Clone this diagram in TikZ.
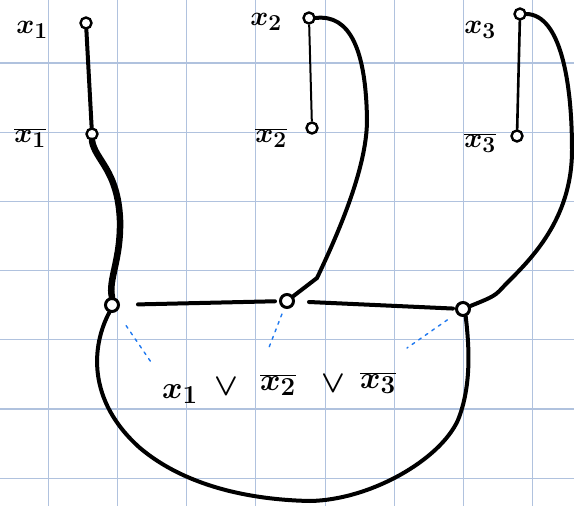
\documentclass[tikz,border=0pt]{standalone}
\begin{document}
\begin{tikzpicture}[x=1pt,y=-1pt,
  gridline/.style={draw={rgb,255:red,176;green,194;blue,222},line width=1.1pt},
  vtx/.style={circle,draw,fill=white,inner sep=0pt,minimum size=11pt,line width=2.4pt},
  cvtx/.style={circle,draw,fill=white,inner sep=0pt,minimum size=13pt,line width=3pt},
  wire/.style={line width=4pt,line cap=round},
  thinwire/.style={line width=2.6pt,line cap=round},
  fatwire/.style={line width=6.5pt,line cap=round},
  dots/.style={draw={rgb,255:red,30;green,120;blue,240},line width=1.4pt,dash pattern=on 3pt off 5pt,line cap=round},
  lab/.style={font=\Huge\boldmath,scale=1.1,inner sep=0pt},
  blab/.style={font=\Huge\boldmath,scale=1.25,inner sep=0pt}]
\useasboundingbox (0,0) rectangle (574,506);
\fill[white] (0,0) rectangle (574,506);
\foreach \gx in {48.3,117.5,186.7,255.9,325.1,394.3,463.5,532.7}
  \draw[gridline] (\gx,0) -- (\gx,506);
\foreach \gy in {63,132.2,201.4,270.6,339.8,409,478.2}
  \draw[gridline] (0,\gy) -- (574,\gy);

% labels
\node[lab] (l1) at (32,30) {$x_1$};
\node[lab] (l1b) at (30,138) {$\overline{x_1}$};
\node[lab] (l2) at (266,22) {$x_2$};
\node[lab] (l2b) at (271,138) {$\overline{x_2}$};
\node[lab] (l3) at (480,30) {$x_3$};
\node[lab] (l3b) at (480,143) {$\overline{x_3}$};

% clause text
\node[blab] (t1) at (180,394) {$x_1$};
\node[blab] (v1) at (226,387) {$\vee$};
\node[blab] (t2) at (278,385) {$\overline{x_2}$};
\node[blab] (v2) at (333,384) {$\vee$};
\node[blab] (t3) at (378,383) {$\overline{x_3}$};

% vertices
\node[vtx] (x1t) at (86,23) {};
\node[vtx] (x1b) at (92,134) {};
\node[vtx] (x2t) at (309,18) {};
\node[vtx] (x2b) at (312,128) {};
\node[vtx] (x3t) at (520,14) {};
\node[vtx] (x3b) at (517,136) {};
\node[cvtx] (c1) at (112,305) {};
\node[cvtx] (c2) at (287,301) {};
\node[cvtx] (c3) at (463,309) {};

\coordinate (b1) at (153,365);
\coordinate (b2) at (268,350);
\coordinate (b3) at (407,348);

% variable edges
\draw[wire] (x1t) -- (x1b);
\draw[line width=2pt] (x2t) -- (x2b);
\draw[thinwire] (x3t) -- (x3b);

% literal-to-clause edges
\draw[fatwire] (x1b.south) .. controls (95,160) and (118,170) .. (120,220)
  .. controls (121,260) and (108,280) .. (c1.north);
\draw[wire] (x2t.east) .. controls (350,14) and (366,50) .. (367,120)
  .. controls (367,170) and (335,240) .. (317,278) -- (c2);
\draw[wire] (x3t.east) .. controls (560,15) and (572,80) .. (572,150)
  .. controls (572,220) and (530,260) .. (505,285)
  .. controls (495,296) .. (c3);

% clause triangle
\draw[wire,shorten <=18pt,shorten >=4pt] (c1) -- (c2);
\draw[wire,shorten <=14pt,shorten >=2pt] (c2) -- (c3);
\draw[wire] (c1.250) .. controls (92,345) and (86,400) .. (140,448)
  .. controls (190,490) and (260,500) .. (310,501)
  .. controls (370,500) and (440,460) .. (458,420)
  .. controls (472,385) and (469,345) .. (c3.290);

% dotted links to literals
\draw[dots,shorten <=17pt] (c1) -- (b1);
\draw[dots,shorten <=6pt] (c2) -- (b2);
\draw[dots,shorten <=11pt] (c3) -- (b3);
\end{tikzpicture}
\end{document}
